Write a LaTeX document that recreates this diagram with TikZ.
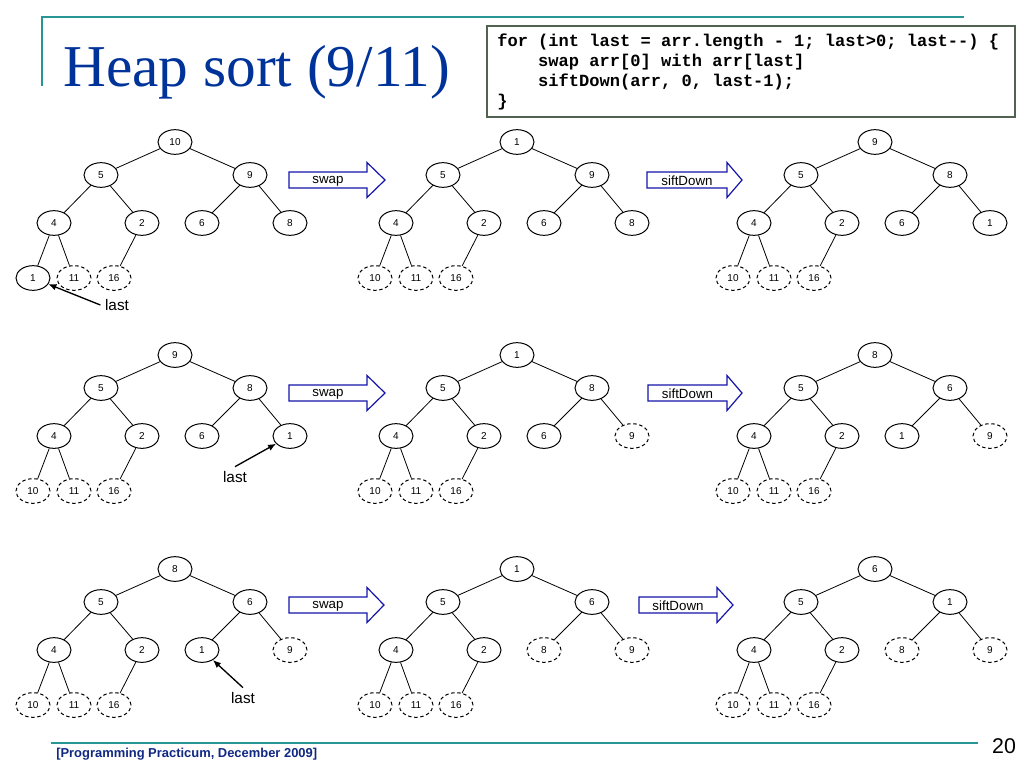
\documentclass[tikz,border=0pt]{standalone}
\usepackage{fontspec}
\setmainfont{Liberation Serif}
\setsansfont{Liberation Sans}
\setmonofont{Liberation Mono}
\usetikzlibrary{shapes.geometric,arrows.meta}
\definecolor{slideteal}{RGB}{40,150,150}
\definecolor{titleblue}{RGB}{0,51,153}
\definecolor{footblue}{RGB}{16,40,130}
\definecolor{boxgreen}{RGB}{82,98,82}
\definecolor{arrowblue}{RGB}{20,20,170}
\tikzset{
  hn/.style={draw,ellipse,line width=0.75pt,minimum width=25.5pt,minimum height=18.5pt,inner sep=0pt,font=\sffamily\fontsize{7.5}{8}\selectfont},
  kept/.style={},
  gone/.style={dash pattern=on 2.6pt off 2pt},
  bigarrow/.style={draw=arrowblue,line width=0.9pt,fill=white},
  lastarrow/.style={-{Latex[length=6pt,width=5pt]},line width=1pt}
}
\begin{document}
\begin{tikzpicture}[x=0.75pt,y=-0.75pt]
\useasboundingbox (0,0) rectangle (1024,768);
% title and frame
\draw[slideteal,line width=1.6pt] (42,86) -- (42,17) -- (964,17);
\node[anchor=base west,inner sep=0pt,text=titleblue,font=\rmfamily\fontsize{44.5}{48}\selectfont] (title) at (63,86) {Heap sort (9/11)};
% code
\draw[draw=boxgreen,line width=2.2pt,fill=white] (487,26) rectangle (1015,117);
\node[anchor=north west,align=left,inner sep=0pt,font=\ttfamily\bfseries\fontsize{12.8}{15}\selectfont] (code) at (497,34)
  {for (int last = arr.length - 1; last>0; last--) \{\\
   \hspace*{30.7pt}swap arr[0] with arr[last]\\
   \hspace*{30.7pt}siftDown(arr, 0, last-1);\\
   \}};
% trees
\foreach \n/\dx/\dy/\vals in {
  1/0/0/{10/kept,5/kept,9/kept,4/kept,2/kept,6/kept,8/kept,1/kept,11/gone,16/gone},
  2/342/0/{1/kept,5/kept,9/kept,4/kept,2/kept,6/kept,8/kept,10/gone,11/gone,16/gone},
  3/700/0/{9/kept,5/kept,8/kept,4/kept,2/kept,6/kept,1/kept,10/gone,11/gone,16/gone},
  4/0/213/{9/kept,5/kept,8/kept,4/kept,2/kept,6/kept,1/kept,10/gone,11/gone,16/gone},
  5/342/213/{1/kept,5/kept,8/kept,4/kept,2/kept,6/kept,9/gone,10/gone,11/gone,16/gone},
  6/700/213/{8/kept,5/kept,6/kept,4/kept,2/kept,1/kept,9/gone,10/gone,11/gone,16/gone},
  7/0/427/{8/kept,5/kept,6/kept,4/kept,2/kept,1/kept,9/gone,10/gone,11/gone,16/gone},
  8/342/427/{1/kept,5/kept,6/kept,4/kept,2/kept,8/gone,9/gone,10/gone,11/gone,16/gone},
  9/700/427/{6/kept,5/kept,1/kept,4/kept,2/kept,8/gone,9/gone,10/gone,11/gone,16/gone}}
{
  \foreach \v/\s [count=\i from 0] in \vals {
    \pgfmathsetmacro{\hx}{\dx+{175,101,250,54,142,202,290,33,74,114}[\i]}
    \pgfmathsetmacro{\hy}{\dy+{142,175,175,223,223,223,223,278,278,278}[\i]}
    \node[hn,\s] (t\n-\i) at (\hx,\hy) {\v};
  }
  \foreach \p/\c in {0/1,0/2,1/3,1/4,2/5,2/6,3/7,3/8,4/9}
    \draw[line width=0.6pt] (t\n-\p) -- (t\n-\c);
}
% swap / siftDown arrows
\foreach \a/\b/\tip/\y/\t/\k in {289/367/385/180/swap/1,647/727/742/180/siftDown/2,
    289/367/385/393/swap/3,648/727/742/393/siftDown/4,
    289/367/384/605/swap/5,639/717/733/605/siftDown/6}
{
  \draw[bigarrow] (\a,\y-8) -- (\b,\y-8) -- (\b,\y-17.5) -- (\tip,\y) -- (\b,\y+17.5) -- (\b,\y+8) -- (\a,\y+8) -- cycle;
  \node[font=\sffamily\fontsize{10}{12}\selectfont] (op\k) at ({(\a+\b)/2},\y+1) {\t};
}
% last markers
\node[font=\sffamily\fontsize{11.5}{13}\selectfont] (last1) at (117,305) {last};
\node[font=\sffamily\fontsize{11.5}{13}\selectfont] (last4) at (235,477) {last};
\node[font=\sffamily\fontsize{11.5}{13}\selectfont] (last7) at (243,698) {last};
\draw[lastarrow] (last1.west) -- (t1-7);
\draw[lastarrow] (last4.north) -- (t4-6);
\draw[lastarrow] (last7.north) -- (t7-5);
% footer
\draw[slideteal,line width=1.6pt] (51,743) -- (978,743);
\node[anchor=base west,inner sep=0pt,text=footblue,font=\sffamily\bfseries\fontsize{9.7}{11}\selectfont] (foot) at (56,757) {[Programming Practicum, December 2009]};
\node[font=\sffamily\fontsize{16}{18}\selectfont] (page) at (1004,746) {20};
\end{tikzpicture}
\end{document}
